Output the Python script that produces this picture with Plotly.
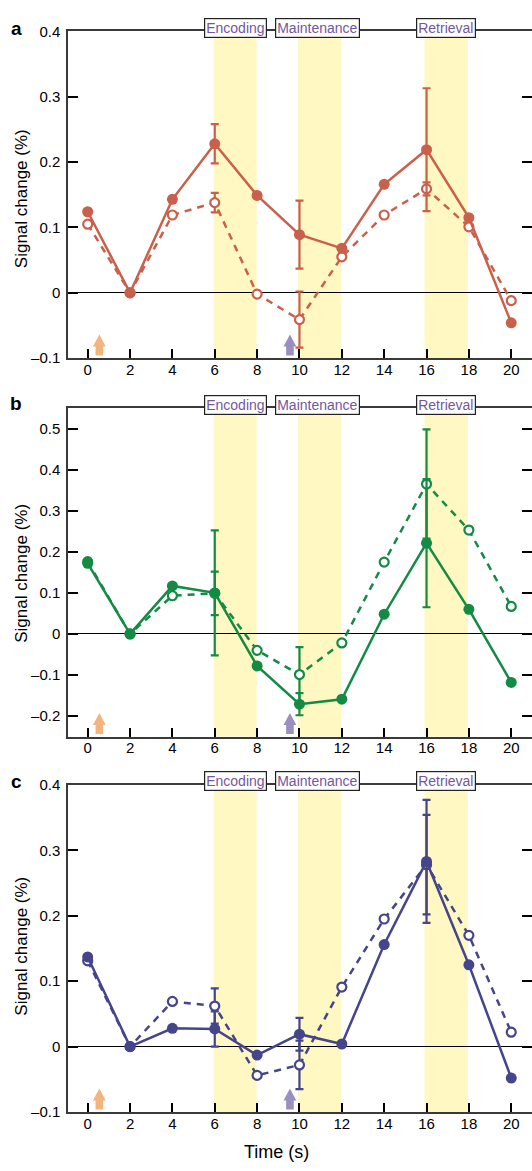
import plotly.graph_objects as go

# ---------------- data ----------------
time_s = [0, 2, 4, 6, 8, 10, 12, 14, 16, 18, 20]
x_tick_labels = ["0", "2", "4", "6", "8", "10", "12", "14", "16", "18", "20"]

a_solid = [0.124, 0.0, 0.143, 0.228, 0.149, 0.089, 0.068, 0.166, 0.219, 0.115, -0.046]
a_dashed = [0.105, 0.0, 0.119, 0.138, -0.002, -0.041, 0.055, 0.119, 0.159, 0.101, -0.012]
b_solid = [0.172, 0.0, 0.117, 0.100, -0.078, -0.171, -0.159, 0.048, 0.221, 0.060, -0.118]
b_dashed = [0.176, 0.0, 0.093, 0.099, -0.040, -0.099, -0.022, 0.175, 0.365, 0.253, 0.067]
c_solid = [0.137, 0.0, 0.028, 0.027, -0.013, 0.019, 0.004, 0.156, 0.283, 0.125, -0.048]
c_dashed = [0.131, 0.0, 0.069, 0.062, -0.044, -0.028, 0.091, 0.195, 0.278, 0.170, 0.022]

err_times = [6, 10, 16]
a_solid_err = [0.030, 0.052, 0.094]
a_dashed_err = [0.015, 0.043, 0.010]
b_solid_err = [0.152, 0.027, 0.156]
b_dashed_err = [0.053, 0.067, 0.133]
c_solid_err = [0.027, 0.025, 0.094]
c_dashed_err = [0.027, 0.037, 0.076]

phase_names = ["Encoding", "Maintenance", "Retrieval"]
phase_start = [5.95, 9.93, 15.9]
phase_end = [7.98, 11.97, 17.95]

cue_times = [0.55, 9.55]

a_ticks = [-0.1, 0, 0.1, 0.2, 0.3, 0.4]
a_ticktext = ["\u20130.1", "0", "0.1", "0.2", "0.3", "0.4"]
b_ticks = [-0.2, -0.1, 0, 0.1, 0.2, 0.3, 0.4, 0.5]
b_ticktext = ["\u20130.2", "\u20130.1", "0", "0.1", "0.2", "0.3", "0.4", "0.5"]
c_ticks = a_ticks
c_ticktext = a_ticktext

# ---------------- styling ----------------
W, H = 532, 1171
ML = 68
FONT = "Liberation Sans, Arial, Helvetica, sans-serif"
AXC = "#3a3a3a"
BAND = "#FFF8C2"
PHASE_TXT = "#74569E"
CUE_COLORS = ["#F4B47E", "#9990BF"]
# arrow glyph (pixel units, relative to its anchor on the axis; +y is up)
ARROW_PATH = "M-3.8,2.6 L3.8,2.6 L3.8,11.6 L6.4,11.6 L0,23.6 L-6.4,11.6 L-3.8,11.6 Z"

panels = [
    dict(label="a", color="#C9604B", solid=a_solid, dashed=a_dashed,
         serr=a_solid_err, derr=a_dashed_err, rng=[-0.1, 0.4],
         ticks=a_ticks, tt=a_ticktext, top=22.7, bot=354.3, tcen=0.488, ly=20),
    dict(label="b", color="#138B44", solid=b_solid, dashed=b_dashed,
         serr=b_solid_err, derr=b_dashed_err, rng=[-0.25, 0.55],
         ticks=b_ticks, tt=b_ticktext, top=405.0, bot=738.3, tcen=0.497, ly=400),
    dict(label="c", color="#45458B", solid=c_solid, dashed=c_dashed,
         serr=c_solid_err, derr=c_dashed_err, rng=[-0.1, 0.4],
         ticks=c_ticks, tt=c_ticktext, top=787.3, bot=1119.3, tcen=0.507, ly=784),
]

x_range = [-0.93, 20.98]

fig = go.Figure()
layout = dict(
    width=W, height=H, autosize=False,
    margin=dict(l=ML, r=0, t=0, b=0, pad=0),
    paper_bgcolor="white", plot_bgcolor="white",
    showlegend=False,
    font=dict(family=FONT, size=14, color="black"),
    shapes=[], annotations=[],
)

for i, p in enumerate(panels):
    n = i + 1
    xa = "x" if n == 1 else f"x{n}"
    ya = "y" if n == 1 else f"y{n}"
    yr_n = n + 3
    yr = f"y{yr_n}"
    xkey = "xaxis" if n == 1 else f"xaxis{n}"
    ykey = "yaxis" if n == 1 else f"yaxis{n}"
    dom = [1 - p["bot"] / H, 1 - p["top"] / H]

    layout[xkey] = dict(
        domain=[0, 1], anchor=ya, range=x_range,
        tickvals=time_s, ticktext=x_tick_labels,
        ticks="inside", ticklen=9, tickwidth=1.5, tickcolor="black",
        showline=True, linecolor=AXC, linewidth=1.5, mirror=True,
        showgrid=False, zeroline=False, fixedrange=True, ticklabelstandoff=-3,
        tickfont=dict(family=FONT, size=15, color="black"),
    )
    layout[ykey] = dict(
        domain=dom, anchor=xa, range=p["rng"],
        tickvals=p["ticks"], ticktext=p["tt"],
        ticks="inside", ticklen=10, tickwidth=1.5, tickcolor="black",
        showline=True, linecolor=AXC, linewidth=1.5,
        showgrid=False, zeroline=True, zerolinecolor="black", zerolinewidth=1.3,
        fixedrange=True, ticklabelstandoff=3,
        tickfont=dict(family=FONT, size=15, color="black"),
    )
    layout[f"yaxis{yr_n}"] = dict(
        overlaying=ya, anchor=xa, side="right", range=p["rng"],
        tickvals=p["ticks"], showticklabels=False,
        ticks="inside", ticklen=10, tickwidth=1.5, tickcolor="black",
        showline=False, showgrid=False, zeroline=False, fixedrange=True,
    )

    # phase bands + boxed labels
    for k, name in enumerate(phase_names):
        layout["shapes"].append(dict(
            type="rect", xref=xa, yref=f"{ya} domain",
            x0=phase_start[k], x1=phase_end[k], y0=0, y1=1,
            fillcolor=BAND, line=dict(width=0), layer="below"))
        mid = (phase_start[k] + phase_end[k]) / 2
        layout["annotations"].append(dict(
            text=name, xref=xa, yref=f"{ya} domain", x=mid, y=1,
            xanchor="center", yanchor="middle", yshift=3.5,
            xshift=(-2.5 if name == "Maintenance" else 0),
            showarrow=False, bgcolor="white", bordercolor="#222222",
            borderwidth=1.2, borderpad=1,
            font=dict(family=FONT, size=14, color=PHASE_TXT)))

    # cue arrows
    for k, t in enumerate(cue_times):
        layout["shapes"].append(dict(
            type="path", xref=xa, yref=ya,
            xsizemode="pixel", ysizemode="pixel",
            xanchor=t, yanchor=p["rng"][0], path=ARROW_PATH,
            fillcolor=CUE_COLORS[k], line=dict(width=0), layer="above"))

    # y title
    layout["annotations"].append(dict(
        text="Signal change (%)", xref="paper", yref=f"{ya} domain",
        x=(21.5 - ML) / (W - ML), y=p["tcen"], textangle=-90,
        xanchor="center", yanchor="middle", showarrow=False,
        font=dict(family=FONT, size=17, color="black")))
    # panel letter
    layout["annotations"].append(dict(
        text=f"<b>{p['label']}</b>", xref="paper", yref="paper",
        x=(16 - ML) / (W - ML), y=1 - p["ly"] / H,
        xanchor="center", yanchor="middle", showarrow=False,
        font=dict(family=FONT, size=19, color="black")))

    col = p["color"]
    d_err_y = [p["dashed"][time_s.index(t)] for t in err_times]
    s_err_y = [p["solid"][time_s.index(t)] for t in err_times]

    # dashed (open) series
    fig.add_trace(go.Scatter(
        x=err_times, y=d_err_y, xaxis=xa, yaxis=ya, mode="markers",
        marker=dict(size=2, opacity=0), hoverinfo="skip",
        error_y=dict(type="data", array=p["derr"], visible=True,
                     color=col, thickness=2.2, width=4)))
    fig.add_trace(go.Scatter(
        x=time_s, y=p["dashed"], xaxis=xa, yaxis=ya, mode="lines+markers",
        line=dict(color=col, width=2.5, dash="7px,6px"),
        marker=dict(symbol="circle", size=9, color="white",
                    line=dict(color=col, width=2.2))))
    # solid (filled) series
    fig.add_trace(go.Scatter(
        x=err_times, y=s_err_y, xaxis=xa, yaxis=ya, mode="markers",
        marker=dict(size=2, opacity=0), hoverinfo="skip",
        error_y=dict(type="data", array=p["serr"], visible=True,
                     color=col, thickness=2.2, width=4)))
    fig.add_trace(go.Scatter(
        x=time_s, y=p["solid"], xaxis=xa, yaxis=ya, mode="lines+markers",
        line=dict(color=col, width=2.5),
        marker=dict(symbol="circle", size=11, color=col)))
    # invisible trace carrying the right-hand tick axis
    fig.add_trace(go.Scatter(
        x=time_s, y=p["solid"], xaxis=xa, yaxis=yr, mode="markers",
        marker=dict(size=1, opacity=0), hoverinfo="skip"))

# x-axis title
layout["annotations"].append(dict(
    text="Time (s)", xref="x3", yref="paper", x=8.9, y=1 - 1160 / H,
    xanchor="center", yanchor="middle", showarrow=False,
    font=dict(family=FONT, size=18, color="black")))

fig.update_layout(**layout)
fig.write_html(
    "out.html",
    config={"displayModeBar": False, "responsive": False},
    post_script="document.body.style.margin='0px';document.body.style.overflow='hidden';",
)
